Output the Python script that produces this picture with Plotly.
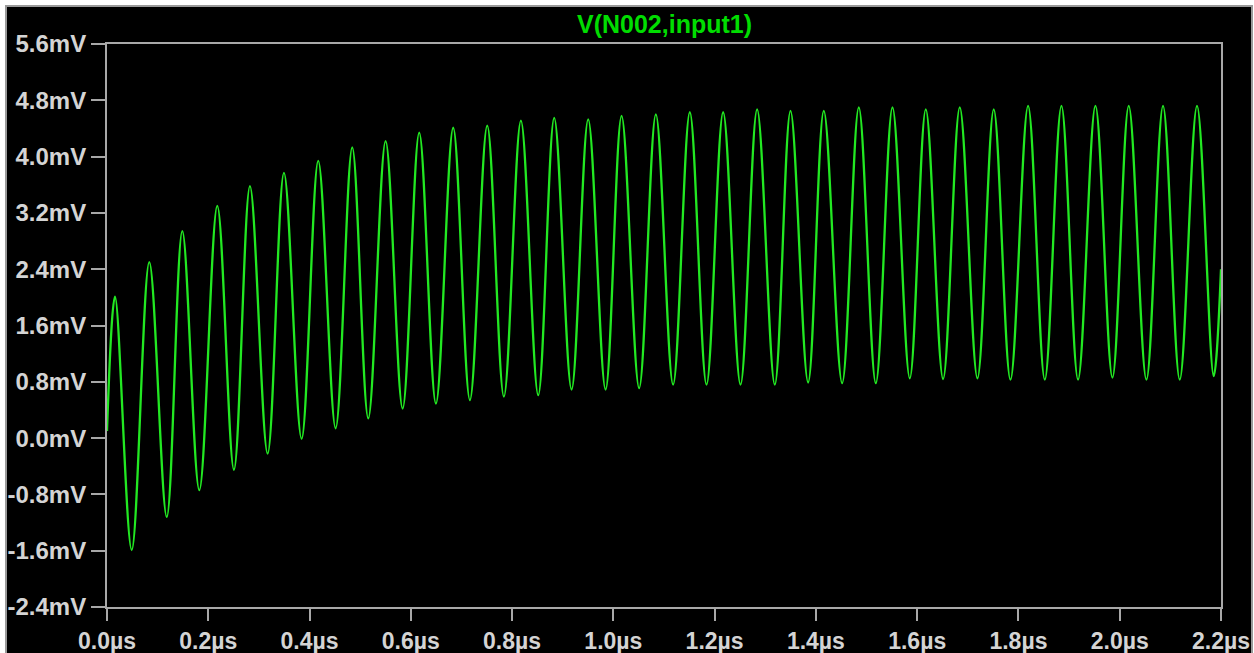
import plotly.graph_objects as go

# Extrema of the waveform (time in µs, voltage in mV)
time_us = [0.0, 0.0158, 0.0488, 0.0835, 0.118, 0.1487, 0.1823, 0.2178, 0.2507,
           0.2823, 0.3172, 0.3495, 0.3843, 0.4172, 0.4515, 0.4843, 0.516,
           0.5502, 0.5838, 0.6166, 0.6496, 0.6837, 0.7167, 0.7509, 0.7838,
           0.8174, 0.8516, 0.8832, 0.9175, 0.9503, 0.9846, 1.0162, 1.0509,
           1.0839, 1.118, 1.151, 1.184, 1.2168, 1.2511, 1.2839, 1.3188,
           1.3498, 1.3846, 1.4156, 1.4518, 1.4847, 1.5183, 1.5512, 1.5854,
           1.617, 1.6512, 1.6841, 1.719, 1.7512, 1.7842, 1.819, 1.852,
           1.8849, 1.9177, 1.952, 1.9856, 2.0178, 2.0527, 2.0855, 2.1185,
           2.1526, 2.1856, 2.2]
v_mV = [0.1, 2.01, -1.59, 2.50, -1.12, 2.94, -0.74, 3.30, -0.45,
        3.58, -0.22, 3.77, -0.01, 3.94, 0.14, 4.13, 0.28,
        4.22, 0.42, 4.34, 0.49, 4.41, 0.54, 4.44, 0.59,
        4.51, 0.61, 4.55, 0.69, 4.53, 0.69, 4.58, 0.71,
        4.60, 0.76, 4.63, 0.76, 4.63, 0.76, 4.67, 0.76,
        4.65, 0.79, 4.65, 0.78, 4.70, 0.78, 4.70, 0.85,
        4.67, 0.84, 4.70, 0.85, 4.67, 0.83, 4.72, 0.83,
        4.72, 0.83, 4.72, 0.86, 4.72, 0.83, 4.72, 0.83,
        4.72, 0.88, 2.4]

x_tickvals = [0.0, 0.2, 0.4, 0.6, 0.8, 1.0, 1.2, 1.4, 1.6, 1.8, 2.0, 2.2]
x_ticktext = ["0.0µs", "0.2µs", "0.4µs", "0.6µs", "0.8µs", "1.0µs",
              "1.2µs", "1.4µs", "1.6µs", "1.8µs", "2.0µs", "2.2µs"]
y_tickvals = [-2.4, -1.6, -0.8, 0.0, 0.8, 1.6, 2.4, 3.2, 4.0, 4.8, 5.6]
y_ticktext = ["-2.4mV", "-1.6mV", "-0.8mV", "0.0mV", "0.8mV", "1.6mV",
              "2.4mV", "3.2mV", "4.0mV", "4.8mV", "5.6mV"]
trace_name = "V(N002,input1)"

W, H = 1254, 653
L, R, T, B = 107, 33, 44, 46
pw, ph = W - L - R, H - T - B

def px_x(px):
    return (px - L) / pw

def px_y(py):
    return (H - B - py) / ph

fig = go.Figure()
fig.add_trace(go.Scatter(
    x=time_us, y=v_mV, mode="lines", name=trace_name,
    line=dict(color="#22e822", width=2.3, shape="spline", smoothing=1.0),
    showlegend=False,
))

axis_color = "#a8a8a8"
ytick_font = dict(family="Liberation Sans", size=24, color="#d4d4d4", weight="bold")
xtick_font = dict(family="Liberation Sans", size=23, color="#d4d4d4", weight="bold")

fig.update_xaxes(
    range=[0, 2.2], tickvals=x_tickvals, ticktext=x_ticktext,
    showgrid=False, zeroline=False, showline=True, mirror=True,
    linecolor=axis_color, linewidth=2, ticks="outside", ticklen=12,
    tickcolor=axis_color, tickwidth=2, tickfont=xtick_font,
    automargin=False,
)
fig.update_yaxes(
    range=[-2.4, 5.6], tickvals=y_tickvals, ticktext=y_ticktext,
    showgrid=False, zeroline=False, showline=True, mirror=True,
    linecolor=axis_color, linewidth=2, ticks="outside", ticklen=14,
    tickcolor=axis_color, tickwidth=2, tickfont=ytick_font,
    automargin=False,
)

fig.add_shape(type="rect", xref="paper", yref="paper",
              x0=px_x(6), x1=px_x(1252), y0=px_y(680), y1=px_y(6),
              fillcolor="black", line=dict(color="#9a9a9a", width=2),
              layer="below")

fig.add_annotation(text=trace_name, xref="paper", yref="paper",
                   x=0.5, y=px_y(24), xanchor="center", yanchor="middle",
                   showarrow=False,
                   font=dict(family="Liberation Sans", size=25,
                             color="#00dd00", weight="bold"))

fig.update_layout(
    width=W, height=H,
    margin=dict(l=L, r=R, t=T, b=B, autoexpand=False),
    paper_bgcolor="white", plot_bgcolor="black",
)

fig.write_html("out.html",
               config={"displayModeBar": False},
               post_script="document.body.style.margin='0';document.body.style.overflow='hidden';")
